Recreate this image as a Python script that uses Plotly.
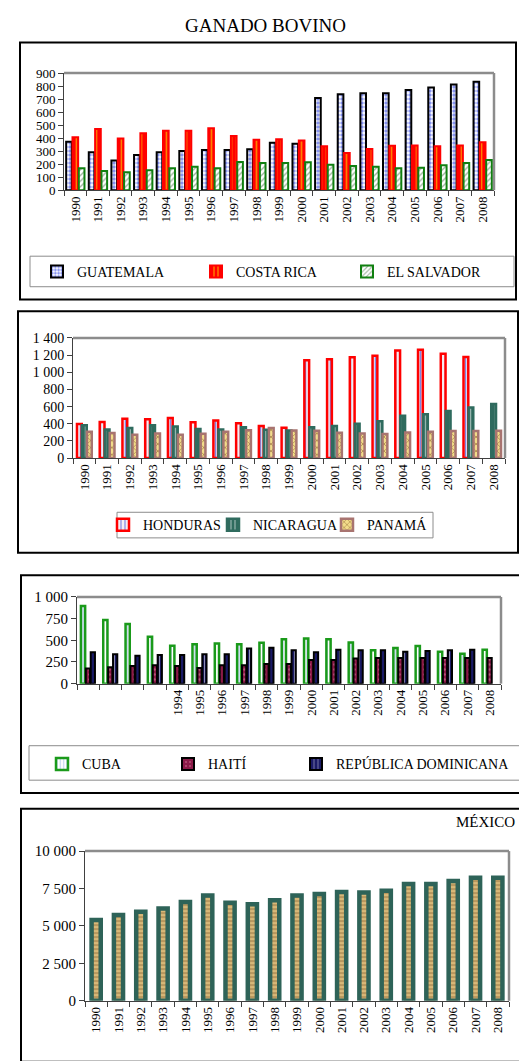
import plotly.graph_objects as go

W, H = 519, 1061
SERIF = "'Liberation Serif', 'Times New Roman', Times, serif"

# ---- data (thousands of head) ----
years = ["1990", "1991", "1992", "1993", "1994", "1995", "1996", "1997", "1998", "1999",
         "2000", "2001", "2002", "2003", "2004", "2005", "2006", "2007", "2008"]

guatemala = [372, 291, 229, 271, 291, 301, 309, 309, 314, 364, 357, 708, 736, 744, 744, 769, 789, 812, 832]
costa_rica = [407, 470, 397, 437, 457, 457, 475, 417, 387, 392, 382, 337, 286, 317, 342, 344, 337, 344, 369]
el_salvador = [168, 148, 138, 153, 168, 181, 168, 216, 209, 209, 214, 196, 186, 181, 168, 173, 191, 209, 231]

honduras = [396, 422, 460, 453, 468, 419, 437, 407, 373, 353, 1139, 1151, 1174, 1193, 1254, 1262, 1216, 1178, None]
nicaragua = [384, 334, 350, 384, 368, 338, 334, 361, 330, 322, 361, 373, 399, 430, 495, 511, 549, 591, 629]
panama = [307, 292, 273, 288, 273, 284, 307, 326, 350, 322, 319, 296, 288, 281, 299, 307, 315, 315, 319]

cuba = [897, 733, 688, 540, 437, 456, 464, 456, 471, 513, 521, 513, 475, 384, 410, 433, 368, 346, 391]
haiti = [175, 190, 205, 213, 205, 182, 213, 213, 228, 228, 274, 274, 289, 296, 296, 296, 296, 296, 296]
rep_dom = [361, 338, 323, 331, 331, 338, 338, 407, 414, 384, 361, 391, 384, 384, 368, 376, 384, 391, None]

mexico = [5395, 5724, 5942, 6162, 6600, 7039, 6557, 6447, 6710, 7039, 7127, 7259, 7237, 7346, 7807, 7807, 8004, 8224, 8224]

# axis tick labels
ticks1 = [0, 100, 200, 300, 400, 500, 600, 700, 800, 900]
ticks1_text = ["0", "100", "200", "300", "400", "500", "600", "700", "800", "900"]
ticks2 = [0, 200, 400, 600, 800, 1000, 1200, 1400]
ticks2_text = ["0", "200", "400", "600", "800", "1 000", "1 200", "1 400"]
ticks3 = [0, 250, 500, 750, 1000]
ticks3_text = ["0", "250", "500", "750", "1 000"]
ticks4 = [0, 2500, 5000, 7500, 10000]
ticks4_text = ["0", "2 500", "5 000", "7 500", "10 000"]
years3_text = ["", "", "", "", "1994", "1995", "1996", "1997", "1998", "1999",
               "2000", "2001", "2002", "2003", "2004", "2005", "2006", "2007", "2008"]


def fx(px):
    return px / W


def fy(py):
    return 1 - py / H


fig = go.Figure()
legends = {}


def add_bar(y, name, xa, ya, width, center, fill, line, lw, pattern, key=None, text_x=None, text_y=None):
    # each series gets its own one-entry legend so the entries can be spaced freely
    kw = {}
    if key is not None:
        kw["legend"] = key
        legends[key] = (text_x, text_y)
    fig.add_trace(go.Bar(
        x=years, y=y, name=name, xaxis=xa, yaxis=ya,
        width=width, offset=center - width / 2,
        marker=dict(color=fill, line=dict(color=line, width=lw), pattern=pattern),
        showlegend=key is not None, **kw,
    ))


# panel 1: Guatemala, Costa Rica, El Salvador
add_bar(guatemala, "GUATEMALA", "x", "y", 0.25, -0.28, "white", "#000000", 2,
        dict(shape=".", fgcolor="#1028e0", bgcolor="white", size=4, solidity=0.55),
        "legend", 74, 268)
add_bar(costa_rica, "COSTA RICA", "x", "y", 0.25, 0.0, "#ff0000", "#ff0000", 2,
        dict(shape="|", fgcolor="#ffff00", bgcolor="#ff0000", size=5, solidity=0.35),
        "legend2", 233, 268)
add_bar(el_salvador, "EL SALVADOR", "x", "y", 0.25, 0.28, "white", "#108010", 2,
        dict(shape="/", fgcolor="#3a6a3a", bgcolor="white", size=4, solidity=0.35),
        "legend3", 384, 268)

# panel 2: Honduras, Nicaragua, Panamá
add_bar(honduras, "HONDURAS", "x2", "y2", 0.21, -0.22, "#f4eef4", "#ff0000", 2.5,
        dict(shape="|", fgcolor="#1020d0", bgcolor="#f4eef4", size=5, solidity=0.3),
        "legend4", 140, 525)
add_bar(nicaragua, "NICARAGUA", "x2", "y2", 0.21, 0.0, "#2f6b5e", "#2f6b5e", 2.5,
        dict(shape="|", fgcolor="#ffffff", bgcolor="#2f6b5e", size=5, solidity=0.3),
        "legend5", 250, 525)
add_bar(panama, "PANAMÁ", "x2", "y2", 0.21, 0.22, "#f2dc8a", "#a87470", 2.5,
        dict(shape="x", fgcolor="#6b3a10", bgcolor="#f2dc8a", size=5, solidity=0.3),
        "legend6", 364, 525)

# panel 3: Cuba, Haití, República Dominicana
add_bar(cuba, "CUBA", "x3", "y3", 0.19, -0.23, "white", "#1a9a1a", 2.5,
        dict(shape="|", fgcolor="#8fb0e0", bgcolor="white", size=4, solidity=0.45),
        "legend7", 79, 768)
add_bar(haiti, "HAITÍ", "x3", "y3", 0.19, -0.01, "#8b1a48", "#000000", 2,
        dict(shape=".", fgcolor="#e08aa8", bgcolor="#8b1a48", size=5, solidity=0.2),
        "legend8", 205, 768)
add_bar(rep_dom, "REPÚBLICA DOMINICANA", "x3", "y3", 0.19, 0.21, "#1a1a66", "#000000", 2,
        dict(shape="|", fgcolor="#ffffff", bgcolor="#1a1a66", size=5, solidity=0.2),
        "legend9", 333, 768)

# panel 4: México
add_bar(mexico, "MÉXICO", "x4", "y4", 0.41, 0.0, "#d8b878", "#2e6358", 4.5,
        dict(shape="-", fgcolor="#6a4a20", bgcolor="#d8b878", size=4, solidity=0.3))

# plot areas (left, top, right, bottom) in px and y-axis settings
areas = {
    "": (64, 66, 494, 185),
    "2": (73, 335, 505, 457),
    "3": (77, 598, 501, 686),
    "4": (85, 856, 509, 1008),
}
yticks = {
    "": (ticks1, ticks1_text, 900, 13),
    "2": (ticks2, ticks2_text, 1400, 14),
    "3": (ticks3, ticks3_text, 1000, 15),
    "4": (ticks4, ticks4_text, 10000, 15),
}

layout = dict(
    width=W, height=H, autosize=False,
    margin=dict(l=0, r=0, t=0, b=0),
    paper_bgcolor="white", plot_bgcolor="white",
    barmode="overlay",
    font=dict(family=SERIF, color="black", size=14),
    shapes=[], annotations=[],
)

for k, (l, t, r, b) in areas.items():
    tv, tt, top, fsize = yticks[k]
    layout["xaxis" + k] = dict(
        domain=[fx(l), fx(r)], anchor="y" + k, type="category",
        categoryorder="array", categoryarray=years,
        tickmode="array", tickvals=years, ticktext=years3_text if k == "3" else years,
        tickangle=-90, tickfont=dict(family=SERIF, size=13, color="black"),
        ticks="outside", tickson="boundaries", ticklen=5, tickcolor="#404040",
        showline=True, linecolor="#404040", linewidth=1, showgrid=False, zeroline=False,
        fixedrange=True,
    )
    layout["yaxis" + k] = dict(
        domain=[fy(b), fy(t)], anchor="x" + k, range=[0, top],
        tickmode="array", tickvals=tv, ticktext=tt,
        tickfont=dict(family=SERIF, size=fsize, color="black"),
        ticks="outside", ticklen=5, tickcolor="#404040",
        showline=True, linecolor="#404040", linewidth=1, showgrid=False, zeroline=False,
        fixedrange=True,
    )
    # grey frame on top and right of each plot area
    layout["shapes"].append(dict(type="line", xref="paper", yref="paper",
                                 x0=fx(l), x1=fx(r), y0=fy(t), y1=fy(t),
                                 line=dict(color="#8c8c8c", width=2.5)))
    layout["shapes"].append(dict(type="line", xref="paper", yref="paper",
                                 x0=fx(r), x1=fx(r), y0=fy(t), y1=fy(b),
                                 line=dict(color="#8c8c8c", width=2.5)))

# outer chart boxes (left, top, right, bottom) in px
for (l, t, r, b) in [(20, 35, 516, 296), (18, 308, 518, 553), (21, 576, 522, 797), (21, 813, 522, 1070)]:
    layout["shapes"].append(dict(type="rect", xref="paper", yref="paper",
                                 x0=fx(l), x1=fx(r), y0=fy(b), y1=fy(t),
                                 line=dict(color="black", width=2)))

# legend frames
for (l, t, r, b) in [(30, 252, 514, 283), (117, 512, 433, 538), (29, 749, 525, 784)]:
    layout["shapes"].append(dict(type="rect", xref="paper", yref="paper",
                                 x0=fx(l), x1=fx(r), y0=fy(b), y1=fy(t),
                                 line=dict(color="#8c8c8c", width=1)))

for key, (tx, ty) in legends.items():
    layout[key] = dict(orientation="h", xanchor="left", yanchor="middle",
                       x=fx(tx - 37), y=fy(ty),
                       bgcolor="rgba(0,0,0,0)", borderwidth=0,
                       font=dict(family=SERIF, size=14, color="black"),
                       itemclick=False, itemdoubleclick=False)

layout["annotations"].append(dict(text="GANADO BOVINO", xref="paper", yref="paper",
                                  x=fx(265), y=fy(18), xanchor="center", yanchor="middle",
                                  showarrow=False, font=dict(family=SERIF, size=19, color="black")))
layout["annotations"].append(dict(text="MÉXICO", xref="paper", yref="paper",
                                  x=fx(454), y=fy(826), xanchor="left", yanchor="middle",
                                  showarrow=False, font=dict(family=SERIF, size=15, color="black")))

fig.update_layout(**layout)
fig.write_html("out.html")
